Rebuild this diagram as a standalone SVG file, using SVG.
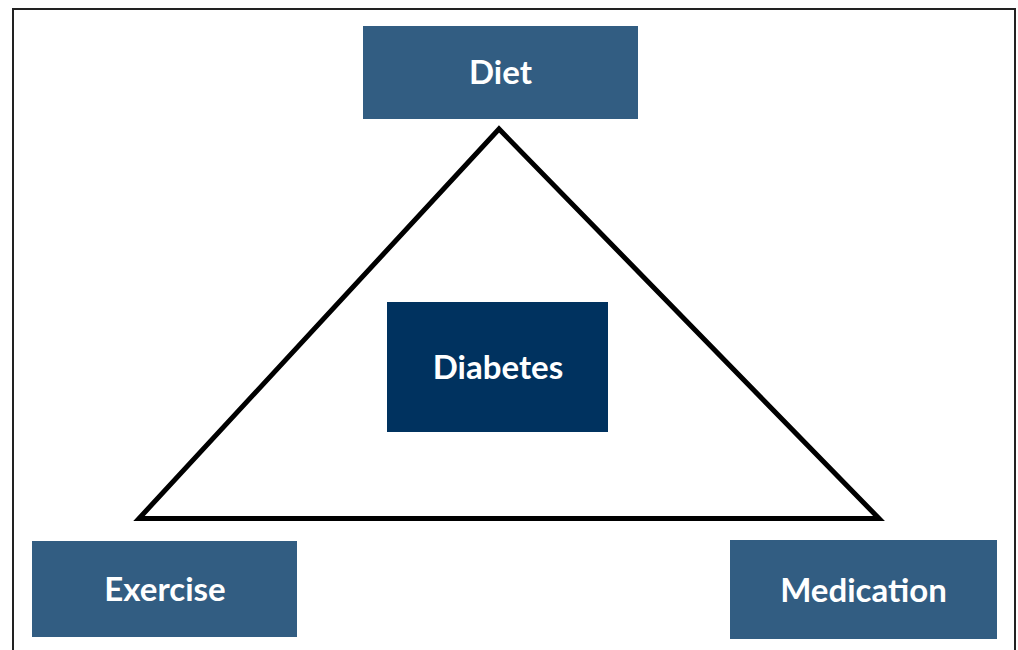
<svg xmlns="http://www.w3.org/2000/svg" width="1018" height="650" viewBox="0 0 1018 650">
<style>
.box{fill:#325D82}
.core{fill:#00325F}
.lbl{font-family:Lato,"Open Sans",sans-serif;font-weight:bold;font-size:33px;fill:#ffffff;text-anchor:middle}
</style>
<rect width="1018" height="650" fill="#ffffff"/>
<path d="M13 660 V9 H1015 V660" fill="none" stroke="#222" stroke-width="2"/>
<g id="connectors">
<polygon points="499,129 139,518.5 879,518.5" fill="none" stroke="#000" stroke-width="5" stroke-linejoin="miter"/>
</g>
<g id="diet"><rect class="box" x="363" y="26" width="275" height="93"/><text class="lbl" x="500.5" y="84">Diet</text></g>
<g id="diabetes"><rect class="core" x="387" y="302" width="221" height="130"/><text class="lbl" x="498" y="379">Diabetes</text></g>
<g id="exercise"><rect class="box" x="32" y="541" width="265" height="96"/><text class="lbl" x="165" y="601">Exercise</text></g>
<g id="medication"><rect class="box" x="730" y="540" width="267" height="99"/><text class="lbl" x="863.5" y="602">Medication</text></g>
</svg>
